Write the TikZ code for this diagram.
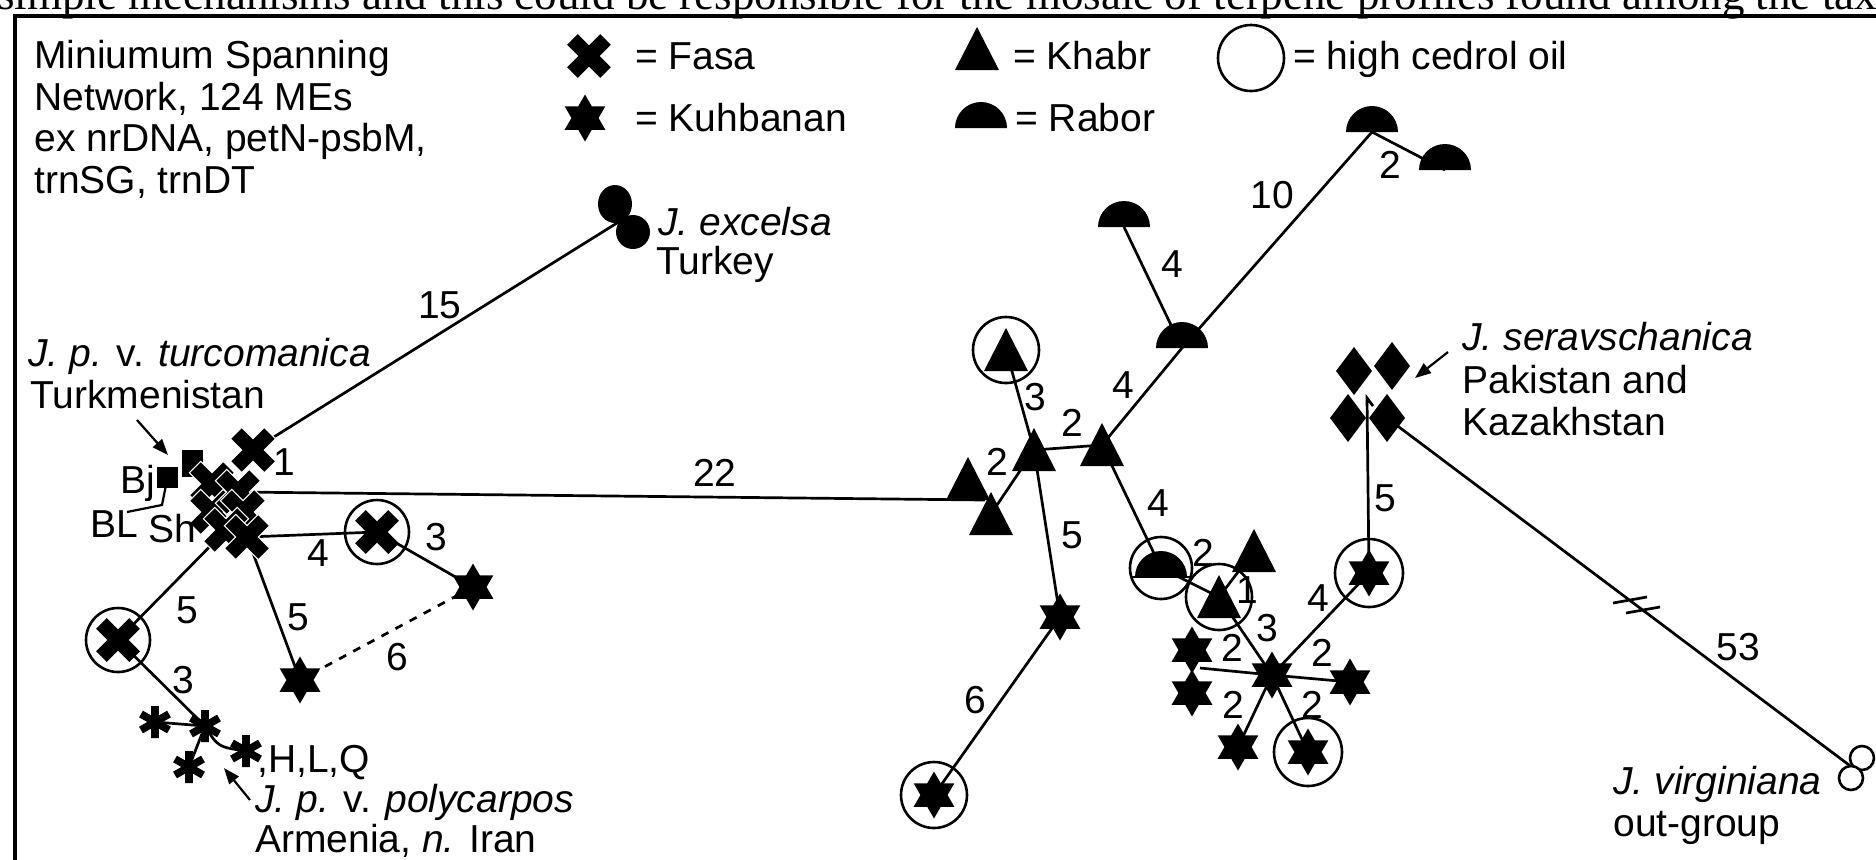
\documentclass[tikz,border=0pt]{standalone}
\usepackage{fontspec}
\setmainfont{Liberation Sans}
\newfontfamily\serifpaper{Liberation Serif}
\usetikzlibrary{arrows.meta}
\newcommand\lblfont{\fontsize{19.5}{21}\selectfont}
\tikzset{
  txt/.style={font=\lblfont, inner sep=0pt, anchor=base west},
  num/.style={font=\lblfont, inner sep=0pt},
  conn/.style={line width=1.35pt},
  ring/.style={line width=1.3pt},
  ptr/.style={line width=1.1pt, -{Triangle[length=8pt,width=6pt]}},
  fasa/.pic={\fill[rotate=45] (23.5,-7.5) -- (23.5,7.5) -- (7.5,7.5) -- (7.5,23.5) -- (-7.5,23.5) -- (-7.5,7.5) -- (-23.5,7.5) -- (-23.5,-7.5) -- (-7.5,-7.5) -- (-7.5,-23.5) -- (7.5,-23.5) -- (7.5,-7.5) -- cycle;},
  fasaw/.pic={\filldraw[fill=black, draw=white, line width=0.5pt, rotate=45] (24,-8) -- (24,8) -- (8,8) -- (8,24) -- (-8,24) -- (-8,8) -- (-24,8) -- (-24,-8) -- (-8,-8) -- (-8,-24) -- (8,-24) -- (8,-8) -- cycle;},
  kuhb/.pic={\fill (0,-23.5) -- (20.35,11.75) -- (-20.35,11.75) -- cycle; \fill (0,23.5) -- (20.35,-11.75) -- (-20.35,-11.75) -- cycle;},
  khabr/.pic={\fill (0,-22) -- (22,21) -- (-22,21) -- cycle;},
  rabor/.pic={\fill (-26,0) arc[start angle=180, end angle=360, radius=26] -- cycle;},
  dia/.pic={\fill (0,-24) -- (18,0) -- (0,24) -- (-18,0) -- cycle;},
  ast/.pic={\draw[line width=3.8pt] (0,-16) -- (0,16) (-14,-8) -- (14,8) (-14,8) -- (14,-8);},
}
\begin{document}
\begin{tikzpicture}[x=0.5pt,y=-0.5pt]
\useasboundingbox (0,0) rectangle (1876,859);
\clip (0,0) rectangle (1876,859);
\fill[white] (0,0) rectangle (1876,859);
% cut-off line of the page above the figure
\node[font=\serifpaper\fontsize{22.5}{24}\selectfont, inner sep=0pt, anchor=base west] (cuttext) at (-3,9) {simple mechanisms and this could be responsible for the mosaic of terpene profiles found among the taxa};
% frame
\draw[line width=1.6pt] (15,900) -- (15,16) -- (1900,16);

% ---------- coordinates ----------
% legend
\coordinate (lx) at (589,56);
\coordinate (lk) at (585,118);
\coordinate (lt) at (977,49);
\coordinate (lr) at (981,128);
\coordinate (lc) at (1251,58);
% left cluster
\coordinate (xa) at (253,450);
\coordinate (xb) at (212,484);
\coordinate (xc) at (238,492);
\coordinate (xd) at (212,512);
\coordinate (xe) at (243,512);
\coordinate (xf) at (226,530);
\coordinate (xg) at (247,537);
\coordinate (sq1) at (192,463);
\coordinate (sq2) at (167.5,477.5);
\coordinate (cx1) at (377,532);
\coordinate (cx2) at (118,640);
\coordinate (k1) at (473,587);
\coordinate (k2) at (300,680);
\coordinate (a1) at (155,722);
\coordinate (a2) at (205,726);
\coordinate (a3) at (246,751);
\coordinate (a4) at (189,767);
\coordinate (e1) at (615,204);
\coordinate (e2) at (633,232);
\coordinate (ej) at (625,218);
\coordinate (blA) at (127,512);
\coordinate (blB) at (162,505);
\coordinate (ta1) at (137,420);
\coordinate (ta2) at (168,455);
\coordinate (pa1) at (250,800);
\coordinate (pa2) at (224,768);
% right part
\coordinate (t1) at (968,479);
\coordinate (t2) at (991,514);
\coordinate (e22) at (985,500);
\coordinate (t3) at (1034,450);
\coordinate (t4) at (1102,445);
\coordinate (ct1) at (1006,350);
\coordinate (t5) at (1254,551);
\coordinate (ct2) at (1219,597);
\coordinate (h1) at (1182,348);
\coordinate (h2) at (1124,227);
\coordinate (h3) at (1372,132);
\coordinate (h4) at (1445,170);
\coordinate (ch) at (1161,568);
\coordinate (chb) at (1161,577);
\coordinate (k3) at (1060,617);
\coordinate (ck1) at (934,795);
\coordinate (kc) at (1272,675);
\coordinate (k4) at (1192,650);
\coordinate (k5) at (1192,693);
\coordinate (k45) at (1200,668);
\coordinate (k6) at (1350,682);
\coordinate (k7) at (1238,747);
\coordinate (ck2) at (1308,752);
\coordinate (ck3) at (1369,573);
\coordinate (d1) at (1354,371);
\coordinate (d2) at (1392,366);
\coordinate (d3) at (1348,418);
\coordinate (d4) at (1387,418);
\coordinate (dj) at (1367,398);
\coordinate (djt) at (1373,406);
\coordinate (sa1) at (1448,352);
\coordinate (sa2) at (1415,378);
\coordinate (v1) at (1862,758);
\coordinate (v2) at (1851,778);
\coordinate (vj) at (1853,768);
\coordinate (bk1) at (1630,600);
\coordinate (bk2) at (1643,610);

% ---------- connectors ----------
\draw[conn] (xa) -- (ej);
\draw[conn] (xc) -- (e22);
\draw[conn] (xg) -- (cx1);
\draw[conn] (cx1) -- (k1);
\draw[conn, dash pattern=on 4pt off 4pt] (k1) -- (k2);
\draw[conn] (xg) -- (k2);
\draw[conn] (xf) -- (cx2);
\draw[conn] (cx2) -- (a2);
\draw[conn] (a1) -- (a2);
\draw[conn] (a2) .. controls (218,747) .. (a3);
\draw[conn] (a2) -- (a4);
\draw[line width=1.1pt] (blA) -- (blB) -- (sq2);
\draw[ptr] (ta1) -- (ta2);
\draw[ptr] (pa1) -- (pa2);
\draw[ptr] (sa1) -- (sa2);

\draw[conn] (t2) -- (t3);
\draw[conn] (t3) -- (ct1);
\draw[conn] (t3) -- (t4);
\draw[conn] (t4) -- (h1);
\draw[conn] (h1) -- (h2);
\draw[conn] (h1) -- (h3);
\draw[conn] (h3) -- (h4);
\draw[conn] (t3) -- (k3);
\draw[conn] (k3) -- (ck1);
\draw[conn] (t4) -- (ch);
\draw[conn] (ch) -- (ct2);
\draw[conn] (ct2) -- (t5);
\draw[conn] (ct2) -- (kc);
\draw[conn] (kc) -- (k45);
\draw[conn] (kc) -- (k6);
\draw[conn] (kc) -- (k7);
\draw[conn] (kc) -- (ck2);
\draw[conn] (kc) -- (ck3);
\draw[conn] (ck3) -- (dj) -- (djt);
\draw[conn] (d4) -- (vj);
\draw[conn] ([shift={(-17,3)}]bk1) -- ([shift={(17,-3)}]bk1);
\draw[conn] ([shift={(-17,3)}]bk2) -- ([shift={(17,-3)}]bk2);

% ---------- symbols ----------
\pic at (lx) {fasa};
\pic at (lk) {kuhb};
\pic at (lt) {khabr};
\pic at (lr) {rabor};
\draw[ring] (lc) circle[radius=33];

\fill (sq2) ++(-10.5,-10.5) rectangle ++(21,21);
\fill (sq1) ++(-10.5,-13.5) rectangle ++(21,27);
\pic at (xb) {fasaw};
\pic at (xd) {fasaw};
\pic at (xc) {fasaw};
\pic at (xe) {fasaw};
\pic at (xf) {fasaw};
\pic at (xg) {fasaw};
\pic at (xa) {fasaw};
\pic at (cx1) {fasa};
\draw[ring] (cx1) circle[radius=32];
\pic at (cx2) {fasa};
\draw[ring] (cx2) circle[radius=32];
\pic at (k1) {kuhb};
\pic at (k2) {kuhb};
\pic at (a1) {ast};
\pic at (a2) {ast};
\pic at (a3) {ast};
\pic at (a4) {ast};
\fill (e1) ellipse[x radius=17, y radius=19];
\fill (e2) ellipse[x radius=17, y radius=17];

\pic at (t1) {khabr};
\pic at (t2) {khabr};
\pic at (t3) {khabr};
\pic at (t4) {khabr};
\pic at (ct1) {khabr};
\draw[ring] (ct1) circle[radius=33];
\pic at (t5) {khabr};
\pic at (h1) {rabor};
\pic at (h2) {rabor};
\pic at (h3) {rabor};
\pic at (h4) {rabor};
\pic at (chb) {rabor};
\draw[ring] (ch) circle[radius=31];
\draw[ring] ([shift={(-30,0)}]chb) -- ([shift={(30,0)}]chb);
\pic at (ct2) {khabr};
\draw[ring] (ct2) circle[radius=33];
\pic at (k3) {kuhb};
\pic at (ck1) {kuhb};
\draw[ring] (ck1) circle[radius=33];
\pic at (kc) {kuhb};
\pic at (k4) {kuhb};
\pic at (k5) {kuhb};
\pic at (k6) {kuhb};
\pic at (k7) {kuhb};
\pic at (ck2) {kuhb};
\draw[ring] (ck2) circle[radius=34];
\pic at (ck3) {kuhb};
\draw[ring] (ck3) circle[radius=34];
\pic at (d1) {dia};
\pic at (d2) {dia};
\pic at (d3) {dia};
\pic at (d4) {dia};
\filldraw[fill=white, ring] (v1) circle[radius=12];
\filldraw[fill=white, ring] (v2) circle[radius=12];

% ---------- texts ----------
\node[txt] (hd1) at (34,68) {Miniumum Spanning};
\node[txt] (hd2) at (34,110) {Network, 124 MEs};
\node[txt] (hd3) at (34,151) {ex nrDNA, petN-psbM,};
\node[txt] (hd4) at (34,193) {trnSG, trnDT};
\node[txt] (lgx) at (635,69) {= Fasa};
\node[txt] (lgk) at (635,131) {= Kuhbanan};
\node[txt] (lgt) at (1013,69) {= Khabr};
\node[txt] (lgr) at (1015,131) {= Rabor};
\node[txt] (lgc) at (1293,69) {= high cedrol oil};
\node[txt] (exc1) at (658,235) {\textit{J. excelsa}};
\node[txt] (exc2) at (656,274) {Turkey};
\node[txt] (tur1) at (28,366) {\textit{J. p.} v. \textit{turcomanica}};
\node[txt] (tur2) at (30,408) {Turkmenistan};
\node[txt] (bj) at (120,493) {Bj};
\node[txt] (bl) at (90,537) {BL};
\node[txt] (sh) at (148,542) {Sh};
\node[txt] (hlq) at (257,772) {,H,L,Q};
\node[txt] (pol1) at (255,812) {\textit{J. p.} v. \textit{polycarpos}};
\node[txt] (pol2) at (255,852) {Armenia, \textit{n.} Iran};
\node[txt] (ser1) at (1462,350) {\textit{J. seravschanica}};
\node[txt] (ser2) at (1462,393) {Pakistan and};
\node[txt] (ser3) at (1462,435) {Kazakhstan};
\node[txt] (vir1) at (1613,794) {\textit{J. virginiana}};
\node[txt] (vir2) at (1613,836) {out-group};

% ---------- edge labels ----------
\node[num] (n15) at (440,305) {15};
\node[num] (n1a) at (284,462) {1};
\node[num] (n22) at (715,473) {22};
\node[num] (n4a) at (318,553) {4};
\node[num] (n3a) at (436,537) {3};
\node[num] (n5a) at (298,617) {5};
\node[num] (n6a) at (397,657) {6};
\node[num] (n5b) at (187,610) {5};
\node[num] (n3b) at (183,680) {3};
\node[num] (n2a) at (997,462) {2};
\node[num] (n3c) at (1035,397) {3};
\node[num] (n2b) at (1072,423) {2};
\node[num] (n4b) at (1123,385) {4};
\node[num] (n4c) at (1172,264) {4};
\node[num] (n10) at (1272,195) {10};
\node[num] (n2c) at (1390,165) {2};
\node[num] (n5c) at (1072,535) {5};
\node[num] (n6b) at (975,700) {6};
\node[num] (n4d) at (1158,503) {4};
\node[num] (n2d) at (1203,553) {2};
\node[num] (n1b) at (1247,590) {1};
\node[num] (n3d) at (1267,628) {3};
\node[num] (n2e) at (1232,648) {2};
\node[num] (n2f) at (1322,653) {2};
\node[num] (n2g) at (1233,705) {2};
\node[num] (n2h) at (1312,705) {2};
\node[num] (n4e) at (1318,598) {4};
\node[num] (n5d) at (1385,498) {5};
\node[num] (n53) at (1738,647) {53};
\end{tikzpicture}
\end{document}
